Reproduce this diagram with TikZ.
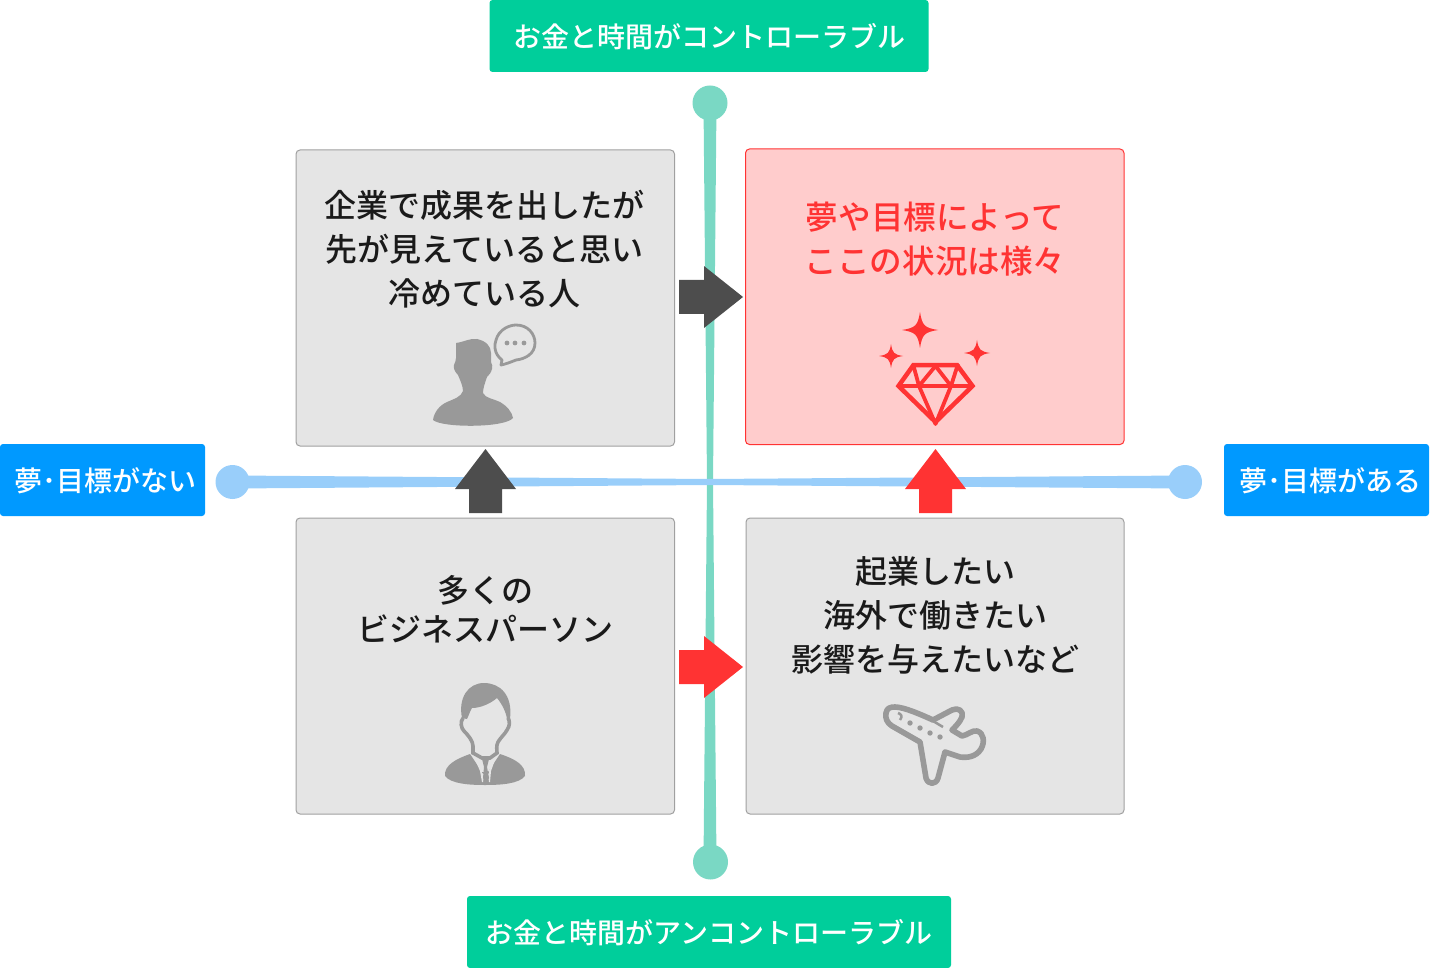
\documentclass[tikz,border=0pt]{standalone}
\usepackage{fontspec}
\setmainfont{Noto Sans CJK JP Medium}
\definecolor{grn}{HTML}{00CE9B}
\definecolor{blu}{HTML}{0099FF}
\definecolor{lgrn}{HTML}{7AD8C4}
\definecolor{lblu}{HTML}{99CEFA}
\definecolor{gbox}{HTML}{E5E5E5}
\definecolor{gline}{HTML}{A0A0A0}
\definecolor{icon}{HTML}{999999}
\definecolor{dark}{HTML}{4D4D4D}
\definecolor{rd}{HTML}{FF3333}
\definecolor{pnk}{HTML}{FFCCCC}
\definecolor{txt}{HTML}{1A1A1A}
\tikzset{
 tag/.style={rounded corners=3pt,text=white,inner sep=0pt,font=\fontsize{28}{36}\selectfont},
 tagtext/.style={text=white,inner sep=0pt,font=\fontsize{28}{36}\selectfont},
 qbox/.style={draw=gline,line width=1pt,fill=gbox,rounded corners=4pt},
 qtext/.style={align=center,text=txt,font=\fontsize{32}{44}\selectfont,inner sep=0pt},
 rtext/.style={qtext,text=rd,font=\fontsize{32.6}{44}\selectfont},
}
\begin{document}
\begin{tikzpicture}[x=1pt,y=-1pt]
\useasboundingbox (0,0) rectangle (1430,968);
% axes
\fill[lgrn] (703.5,103) -- (716.5,103) -- (713,482) -- (716.5,862) -- (703.5,862) -- (707,482) -- cycle;
\fill[lblu] (232,475.5) -- (710,479) -- (1185,475.5) -- (1185,488.5) -- (710,485) -- (232,488.5) -- cycle;
\fill[lgrn] (710,103) circle[radius=17.5];
\fill[lgrn] (710.5,862) circle[radius=17.5];
\fill[lblu] (232.5,482) circle[radius=17];
\fill[lblu] (1185,482) circle[radius=17];
% tags
\node[tag,fill=grn,minimum width=439,minimum height=72] (top) at (709,36) {};
\node[tagtext] (toptext) at (709.5,37) {お金と時間がコントローラブル};
\node[tag,fill=grn,minimum width=484,minimum height=72] (bot) at (709,932) {};
\node[tagtext] (bottext) at (709,933) {お金と時間がアンコントローラブル};
\node[tag,fill=blu,minimum width=205,minimum height=72] (lft) at (102.5,480) {};
\node[tagtext] (lfttext) at (105,481) {夢･目標がない};
\node[tag,fill=blu,minimum width=205,minimum height=72] (rgt) at (1326.5,480) {};
\node[tagtext] (rgttext) at (1330.5,481) {夢･目標がある};
% boxes
\draw[qbox] (296,150) rectangle (674.5,446);
\draw[qbox,draw=rd,fill=pnk] (745.5,149) rectangle (1124,444.5);
\draw[qbox] (296,518) rectangle (674.5,814);
\draw[qbox] (746,518) rectangle (1124,814);
\node[qtext] (q1) at (484.5,249) {企業で成果を出したが\\先が見えていると思い\\冷めている人};
\node[rtext] (q2) at (935,239) {夢や目標によって\\ここの状況は様々};
\node[qtext,font=\fontsize{32}{39}\selectfont] (q3) at (485,609.5) {多くの\\ビジネスパーソン};
\node[qtext] (q4) at (935,615) {起業したい\\海外で働きたい\\影響を与えたいなど};
% arrows
\fill[dark] (679,280) -- (704,280) -- (704,266) -- (743,297) -- (704,328) -- (704,314) -- (679,314) -- cycle;
\fill[rd] (679,650) -- (704,650) -- (704,636) -- (743,667) -- (704,698) -- (704,684) -- (679,684) -- cycle;
\fill[dark] (469,513) -- (469,489) -- (455,489) -- (485.5,449) -- (516,489) -- (502,489) -- (502,513) -- cycle;
\fill[rd] (919,513) -- (919,489) -- (905,489) -- (935.5,449) -- (966,489) -- (952,489) -- (952,513) -- cycle;
% businessman silhouette with speech balloon
\fill[icon] (456,343) .. controls (464,342) and (470,338) .. (477,339) .. controls (486,341) and (491,346) .. (491,353) -- (491,362) .. controls (492,364) and (493,367) .. (492,369) .. controls (491,373) and (489,375) .. (487,377) .. controls (485,383) and (483,388) .. (483,393) .. controls (485,398) and (494,399) .. (500,402) .. controls (507,406) and (512,412) .. (513,418) .. controls (505,428) and (442,428) .. (433,420) .. controls (434,412) and (440,405) .. (447,402) .. controls (454,399) and (461,397) .. (463,391) .. controls (463,386) and (460,380) .. (458,375) .. controls (455,372) and (453,368) .. (454,365) .. controls (455,362) and (456,361) .. (456,358) -- cycle;
\draw[icon,line width=2.8pt,line join=round] (502,360) .. controls (494,354) and (494,345) .. (496,340) .. controls (499,329) and (510,325) .. (516,325) .. controls (528,325) and (535,334) .. (535,343) .. controls (535,354) and (525,359) .. (516,360) .. controls (511,362) and (506,364) .. (501,365) -- cycle;
\foreach \dx in {507,515,524} \fill[icon] (\dx,343) circle[radius=2.4];
% diamond icon
\begin{scope}[rd]
\draw[line width=4.5pt,line join=miter] (913.5,365) -- (957,365) -- (972.5,386) -- (935.5,422) -- (898.5,386) -- cycle;
\draw[line width=3.8pt,line join=round] (898,386) -- (973,386) (913,364) -- (919,386) -- (935.5,424) -- (951,386) -- (958,364) (919,386) -- (935.5,366) -- (951,386);
\end{scope}
\newcommand\spark[3]{\fill[rd] (#1,#2-#3) .. controls (#1+.12*#3,#2-.25*#3) and (#1+.25*#3,#2-.12*#3) .. (#1+#3,#2) .. controls (#1+.25*#3,#2+.12*#3) and (#1+.12*#3,#2+.25*#3) .. (#1,#2+#3) .. controls (#1-.12*#3,#2+.25*#3) and (#1-.25*#3,#2+.12*#3) .. (#1-#3,#2) .. controls (#1-.25*#3,#2-.12*#3) and (#1-.12*#3,#2-.25*#3) .. cycle;}
\spark{920}{330}{18}
\spark{891}{356}{12}
\spark{977}{353}{13}
% man in suit
\fill[icon] (462,718) .. controls (458,698) and (468,683) .. (484,683) .. controls (500,683) and (513,695) .. (510,719) -- (507,719) .. controls (506,712) and (502,704) .. (497,698) .. controls (490,704) and (480,708) .. (472,708) .. controls (470,711) and (469,715) .. (467,719) -- cycle;
\draw[icon,line width=3.6pt] (463,718) .. controls (460,722) and (461,728) .. (464,731) .. controls (468,735) and (473,741) .. (473,746) .. controls (473,750) and (473,752) .. (473,753) -- (482,758) -- (490,758) -- (497,753) .. controls (497,750) and (496,746) .. (498,742) .. controls (501,737) and (505,734) .. (507,730) .. controls (510,726) and (510,721) .. (508,718);
\fill[icon] (470,754) -- (482,772) -- (488,772) -- (500,754) .. controls (515,759) and (526,765) .. (525,776) .. controls (519,784) and (500,785) .. (485,785) .. controls (470,785) and (451,784) .. (445,776) .. controls (444,765) and (456,759) .. (470,754) -- cycle;
\fill[gbox] (474,757) -- (481,761) -- (482,773) -- (484,774) -- (483,782) -- (482,782) -- (480,771) -- cycle;
\fill[gbox] (496,757) -- (490,761) -- (489,773) -- (488,774) -- (489,782) -- (490,782) -- (491,771) -- cycle;
\fill[icon] (482,759) -- (489,759) -- (487,767) -- (489,778) -- (486,782) -- (483,778) -- (484,767) -- cycle;
% airplane
\draw[icon,line width=5.6pt,line join=round,line cap=round] (886,713) .. controls (887,708) and (890,707) .. (895,707) .. controls (904,707) and (922,715) .. (933,720) -- (952,710) .. controls (958,707) and (964,711) .. (962,717) .. controls (960,722) and (956,726) .. (952,730) -- (962,736) .. controls (968,735) and (972,730) .. (977,731) .. controls (984,733) and (985,742) .. (981,749) .. controls (976,757) and (967,758) .. (960,757) -- (945,752) -- (938,778) .. controls (936,785) and (928,785) .. (926,778) -- (920,742) -- (892,726) .. controls (887,723) and (885,718) .. (886,713) -- cycle;
\draw[icon,line width=2.5pt,line join=round] (898,713) .. controls (901,714) and (903,716) .. (900,720) (933,721) -- (943,727);
\foreach \px/\py in {910/723,920/728,930/733,940/737} \fill[icon] (\px,\py) circle[radius=2.7];
\end{tikzpicture}
\end{document}
